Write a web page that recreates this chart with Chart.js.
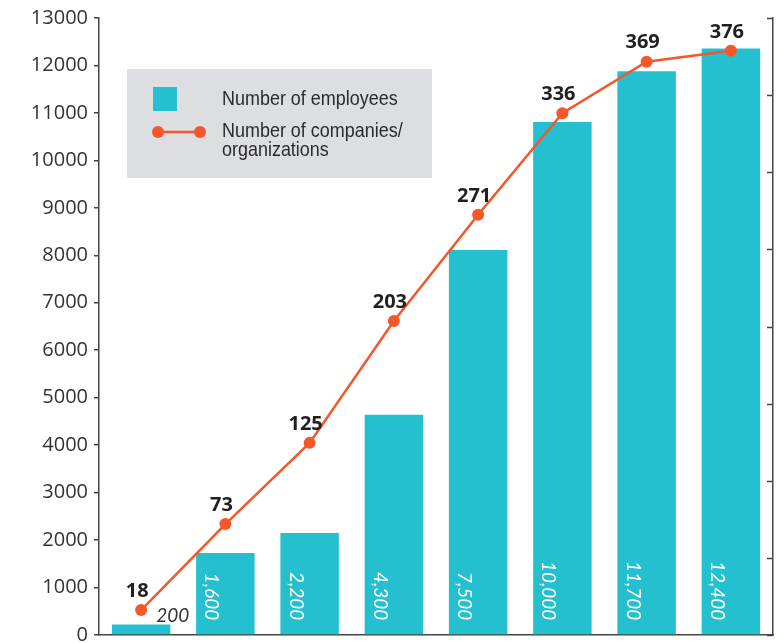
<!DOCTYPE html>
<html lang="en">
<head>
<meta charset="UTF-8">
<title>Employees and companies</title>
<style>
  body { margin: 0; background: #fff; overflow: hidden; }
</style>
</head>
<body>
<canvas id="myChart" width="780" height="653"></canvas>

<script src="https://cdn.jsdelivr.net/npm/chart.js"></script>
<script>
// x labels are cut off in the source, so the periods are just numbered
const periods = ['P1', 'P2', 'P3', 'P4', 'P5', 'P6', 'P7', 'P8'];
// bar heights as read against the left axis
const employees = [220, 1730, 2150, 4640, 8110, 10810, 11880, 12360];
// figures printed on the bars
const employeeText = ['200', '1,600', '2,200', '4,300', '7,500', '10,000', '11,700', '12,400'];
// companies/organizations (right axis, unlabelled)
const companies = [18, 73, 125, 203, 271, 336, 369, 376];

const barColor = '#25c0cf';
const lineColor = '#f4572a';
const axisColor = '#444';

// narrow text: regular face squeezed horizontally
function narrowText(ctx, txt, x, y, sx) {
  ctx.save();
  ctx.translate(x, y);
  ctx.scale(sx, 1);
  ctx.fillText(txt, 0, 0);
  ctx.restore();
}

const extras = {
  id: 'extras',
  afterDatasetsDraw(chart) {
    const ctx = chart.ctx;
    const area = chart.chartArea;
    ctx.save();

    // right axis tick marks point inwards
    const y1 = chart.scales.y1;
    ctx.strokeStyle = axisColor;
    ctx.lineWidth = 1.5;
    y1.ticks.forEach(t => {
      const y = Math.round(y1.getPixelForValue(t.value)) + 0.5;
      ctx.beginPath();
      ctx.moveTo(area.right - 6, y);
      ctx.lineTo(area.right, y);
      ctx.stroke();
    });

    // legend box
    ctx.fillStyle = '#dddee1';
    ctx.fillRect(127, 69, 305, 109);
    ctx.fillStyle = barColor;
    ctx.fillRect(153, 87, 24, 24);
    ctx.strokeStyle = lineColor;
    ctx.lineWidth = 2.5;
    ctx.beginPath();
    ctx.moveTo(158, 132);
    ctx.lineTo(200, 132);
    ctx.stroke();
    ctx.fillStyle = lineColor;
    [158, 200].forEach(x => {
      ctx.beginPath();
      ctx.arc(x, 132, 6, 0, Math.PI * 2);
      ctx.fill();
    });
    ctx.fillStyle = '#2b2b2b';
    ctx.font = '21px "Liberation Sans", Arial, sans-serif';
    ctx.textAlign = 'left';
    ctx.textBaseline = 'middle';
    narrowText(ctx, 'Number of employees', 222, 99, 0.855);
    narrowText(ctx, 'Number of companies/', 222, 131, 0.855);
    narrowText(ctx, 'organizations', 222, 150, 0.855);

    // figures on the bars
    const bars = chart.getDatasetMeta(0).data;
    ctx.font = 'italic 19px Lato, sans-serif';
    bars.forEach((bar, i) => {
      const txt = employeeText[i];
      const w = ctx.measureText(txt).width;
      if (bar.base - bar.y > w + 24) {
        ctx.save();
        ctx.translate(bar.x - 14, bar.base - 14);
        ctx.rotate(Math.PI / 2);
        ctx.fillStyle = '#fff';
        ctx.textAlign = 'right';
        ctx.textBaseline = 'middle';
        ctx.fillText(txt, 0, 0);
        ctx.restore();
      } else {
        ctx.fillStyle = '#333';
        ctx.textAlign = 'left';
        ctx.textBaseline = 'alphabetic';
        ctx.fillText(txt, bar.x + 15, bar.y - 3);
      }
    });

    // company counts above the points
    const pts = chart.getDatasetMeta(1).data;
    ctx.font = 'bold 20px "Open Sans", sans-serif';
    ctx.fillStyle = '#231f20';
    ctx.textAlign = 'center';
    ctx.textBaseline = 'middle';
    pts.forEach((p, i) => ctx.fillText(companies[i], p.x - 4, p.y - 19));

    ctx.restore();
  }
};

new Chart(document.getElementById('myChart'), {
  type: 'bar',
  data: {
    labels: periods,
    datasets: [{
      type: 'bar',
      label: 'Number of employees',
      data: employees,
      backgroundColor: barColor,
      barPercentage: 0.694,
      categoryPercentage: 1,
      yAxisID: 'y',
      order: 1
    }, {
      type: 'line',
      label: 'Number of companies/organizations',
      data: companies,
      borderColor: lineColor,
      backgroundColor: lineColor,
      borderWidth: 2.5,
      pointRadius: 6,
      pointBorderWidth: 0,
      tension: 0,
      yAxisID: 'y1',
      order: 0
    }]
  },
  options: {
    responsive: false,
    animation: false,
    layout: { padding: { top: 5, left: 0, right: 0, bottom: 0 } },
    plugins: {
      legend: { display: false },
      tooltip: { enabled: false }
    },
    scales: {
      x: {
        grid: { display: false, drawTicks: false },
        ticks: { display: false },
        border: { display: true, color: axisColor, width: 1.5 }
      },
      y: {
        position: 'left',
        min: 0,
        max: 13000,
        ticks: {
          stepSize: 1000,
          color: '#333',
          padding: 6,
          font: { family: 'Open Sans', size: 20 },
          callback: v => String(v)
        },
        grid: { drawOnChartArea: false, tickLength: 5, color: axisColor, lineWidth: 1.5 },
        border: { color: axisColor, width: 1.5 },
        afterFit(s) { s.width = 99; }
      },
      y1: {
        position: 'right',
        min: 2,
        max: 397,
        ticks: { display: false, count: 9 },
        grid: { display: false, drawTicks: false },
        border: { display: true, color: axisColor, width: 1.5 },
        afterFit(s) { s.width = 7; }
      }
    }
  },
  plugins: [extras]
});
</script>
</body>
</html>
